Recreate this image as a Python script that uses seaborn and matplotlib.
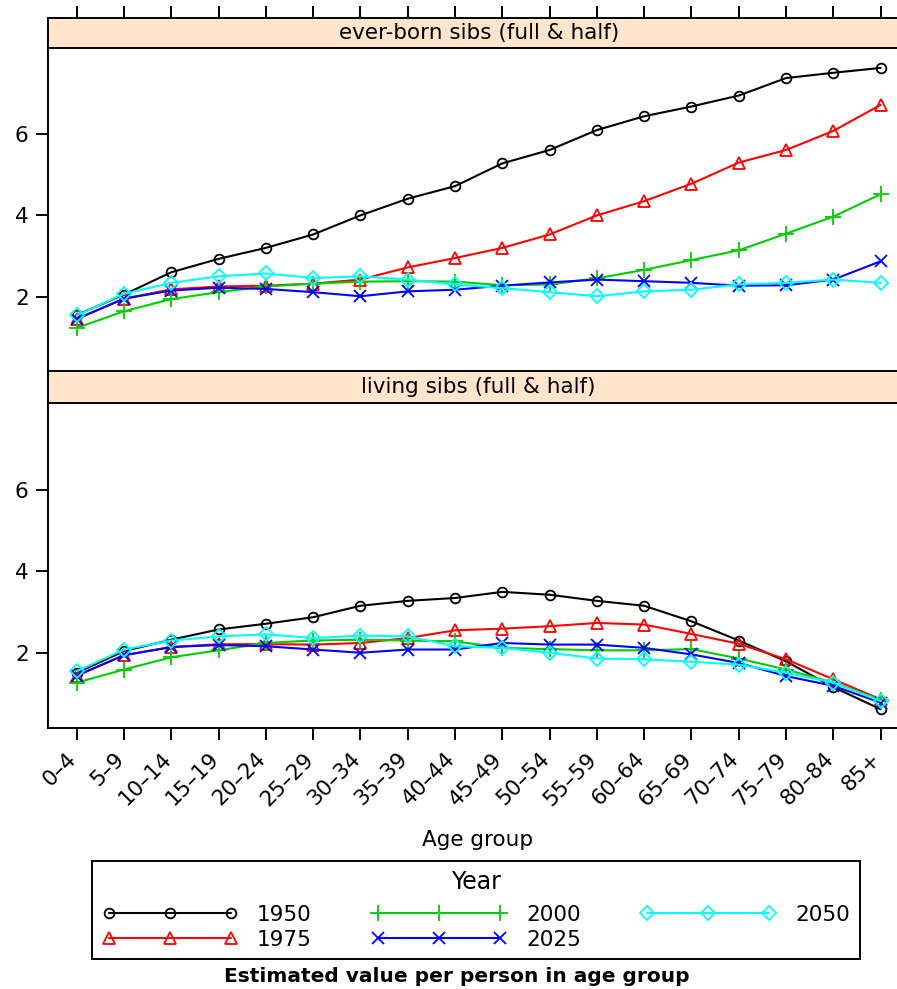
import matplotlib
matplotlib.use("Agg")
import matplotlib.pyplot as plt
from matplotlib.lines import Line2D
import matplotlib.transforms as mtransforms
import pandas as pd
import seaborn as sns

# ---- data -------------------------------------------------------------
age_groups = ["0–4", "5–9", "10–14", "15–19", "20–24", "25–29", "30–34",
              "35–39", "40–44", "45–49", "50–54", "55–59", "60–64", "65–69",
              "70–74", "75–79", "80–84", "85+"]
years = ["1950", "1975", "2000", "2025", "2050"]
panel_titles = ["ever-born sibs (full & half)", "living sibs (full & half)"]

everborn_1950 = [1.55, 2.05, 2.60, 2.93, 3.20, 3.53, 4.00, 4.41, 4.72, 5.28,
                 5.61, 6.10, 6.44, 6.68, 6.95, 7.38, 7.51, 7.63]
everborn_1975 = [1.45, 1.95, 2.18, 2.25, 2.27, 2.32, 2.42, 2.72, 2.95, 3.20,
                 3.53, 4.00, 4.35, 4.78, 5.30, 5.61, 6.08, 6.72]
everborn_2000 = [1.23, 1.64, 1.94, 2.11, 2.25, 2.32, 2.37, 2.38, 2.37, 2.28,
                 2.30, 2.45, 2.66, 2.90, 3.14, 3.55, 3.97, 4.52]
everborn_2025 = [1.45, 1.95, 2.15, 2.22, 2.19, 2.11, 2.01, 2.13, 2.17, 2.27,
                 2.35, 2.42, 2.38, 2.34, 2.27, 2.28, 2.42, 2.87]
everborn_2050 = [1.54, 2.07, 2.34, 2.50, 2.57, 2.46, 2.50, 2.42, 2.30, 2.21,
                 2.11, 2.01, 2.13, 2.17, 2.30, 2.34, 2.42, 2.34]

living_1950 = [1.52, 2.05, 2.33, 2.58, 2.72, 2.88, 3.16, 3.28, 3.35, 3.50,
               3.43, 3.28, 3.16, 2.78, 2.31, 1.80, 1.17, 0.63]
living_1975 = [1.45, 1.95, 2.15, 2.22, 2.22, 2.21, 2.25, 2.37, 2.56, 2.60,
               2.66, 2.74, 2.70, 2.47, 2.23, 1.85, 1.36, 0.87]
living_2000 = [1.28, 1.60, 1.90, 2.07, 2.25, 2.31, 2.33, 2.31, 2.29, 2.13,
               2.10, 2.07, 2.07, 2.10, 1.87, 1.60, 1.28, 0.86]
living_2025 = [1.45, 1.95, 2.15, 2.20, 2.17, 2.09, 2.01, 2.09, 2.09, 2.25,
               2.21, 2.21, 2.13, 1.97, 1.76, 1.44, 1.20, 0.79]
living_2050 = [1.56, 2.09, 2.31, 2.41, 2.46, 2.37, 2.43, 2.41, 2.17, 2.13,
               2.01, 1.87, 1.85, 1.79, 1.72, 1.52, 1.28, 0.83]

series = {
    panel_titles[0]: [everborn_1950, everborn_1975, everborn_2000,
                      everborn_2025, everborn_2050],
    panel_titles[1]: [living_1950, living_1975, living_2000,
                      living_2025, living_2050],
}

rows = []
for panel, values_by_year in series.items():
    for year, values in zip(years, values_by_year):
        for age, v in zip(age_groups, values):
            rows.append({"panel": panel, "Year": year, "age": age, "value": v})
df = pd.DataFrame(rows)

# ---- style ------------------------------------------------------------
colors = {"1950": "#000000", "1975": "#FF0000", "2000": "#00CD00",
          "2025": "#0000FF", "2050": "#00FFFF"}
markers = {"1950": "o", "1975": "^", "2000": "+", "2025": "x", "2050": "D"}
msizes = {"1950": 7, "1975": 8.5, "2000": 11, "2025": 8.5, "2050": 7.5}

sns.set_theme(style="white")
plt.rcParams["font.family"] = ["DejaVu Sans"]
plt.rcParams.update({
    "axes.edgecolor": "black", "text.color": "black",
    "xtick.color": "black", "ytick.color": "black",
    "axes.labelcolor": "black",
})

W, H = 897, 989
fig = plt.figure(figsize=(W / 100, H / 100), dpi=100)


def px_axes(x0, y0, x1, y1):
    return fig.add_axes([x0 / W, 1 - y1 / H, (x1 - x0) / W, (y1 - y0) / H])


XL, XR = 48.3, 909
XLIM = (-0.6, 17.6)
YLIM = (0.17, 8.12)
SPINE_LW = 1.4
FS = 15.5

layout = [(18, 48, 371), (371, 403, 728)]

for k, (title, (s_top, s_bot, p_bot)) in enumerate(zip(panel_titles, layout)):
    strip = px_axes(XL, s_top, XR, s_bot)
    strip.set_facecolor("#FFE5CC")
    strip.set_xlim(XLIM)
    strip.set_ylim(0, 1)
    strip.set_yticks([])
    strip.text(0.5, 0.5, title, transform=strip.transAxes, ha="center",
               va="center", fontsize=FS)
    for sp in strip.spines.values():
        sp.set_linewidth(SPINE_LW)
    if k == 0:
        strip.set_xticks(range(len(age_groups)))
        strip.xaxis.tick_top()
        strip.tick_params(axis="x", direction="out", length=8.6,
                          width=SPINE_LW, labeltop=False, top=True)
    else:
        strip.set_xticks([])

    ax = px_axes(XL, s_bot, XR, p_bot)
    sub = df[df["panel"] == title]
    for year in years:
        sns.lineplot(data=sub[sub["Year"] == year], x="age", y="value",
                     color=colors[year], marker=markers[year],
                     markersize=msizes[year], linewidth=1.5, sort=False,
                     ax=ax, legend=False)
    for line in ax.lines:
        c = line.get_color()
        line.set_markerfacecolor("none")
        line.set_markeredgecolor(c)
        line.set_markeredgewidth(1.3)

    ax.set_xlim(XLIM)
    ax.set_ylim(YLIM)
    ax.set_xlabel("")
    ax.set_ylabel("")
    ax.set_yticks([2, 4, 6])
    ax.tick_params(axis="y", left=True, direction="out", length=8.6,
                   width=SPINE_LW, labelsize=FS, pad=5.5)
    for sp in ax.spines.values():
        sp.set_linewidth(SPINE_LW)
    ax.set_xticks(range(len(age_groups)))
    if k == 1:
        ax.set_xticklabels(age_groups, rotation=45, ha="right", va="center",
                           rotation_mode="anchor", fontsize=FS)
        ax.tick_params(axis="x", bottom=True, direction="out", length=8.6,
                       width=SPINE_LW, pad=11.5)
        shift = mtransforms.ScaledTranslation(-3 / 100, 0, fig.dpi_scale_trans)
        for lab in ax.get_xticklabels():
            lab.set_transform(lab.get_transform() + shift)
    else:
        ax.tick_params(axis="x", bottom=False, labelbottom=False)

fig.text(478 / W, 1 - 840 / H, "Age group", ha="center", va="center",
         fontsize=FS)

handles = [Line2D([], [], color=colors[y], marker=markers[y],
                  markersize=msizes[y], mfc="none", mec=colors[y], mew=1.3,
                  lw=1.5) for y in years]
leg = fig.legend(handles, years, loc="center", ncol=3, numpoints=3,
                 bbox_to_anchor=(476 / W, 1 - 910 / H), title="Year",
                 fontsize=FS, title_fontsize=17, frameon=True, fancybox=False,
                 edgecolor="black", framealpha=1, handlelength=6.3,
                 handletextpad=0.9, columnspacing=2.75, labelspacing=0.22,
                 borderpad=0.45)
leg._legend_box.sep = 7.5
leg.get_frame().set_linewidth(SPINE_LW)

fig.text(457 / W, 1 - 976 / H, "Estimated value per person in age group",
         ha="center", va="center", fontsize=14.5, fontweight="bold")

fig.savefig("out.png", dpi=100)
